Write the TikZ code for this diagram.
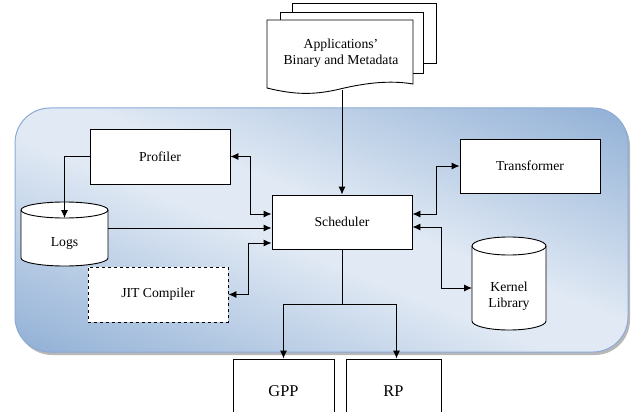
\documentclass[tikz,border=0pt]{standalone}
\usepackage{fontspec}
\setmainfont{Liberation Serif}
\usetikzlibrary{arrows.meta,calc,shadings}
\definecolor{bgdark}{RGB}{149,179,215}
\definecolor{bglight}{RGB}{224,233,244}
\definecolor{bgedge}{RGB}{140,170,214}
\pgfdeclareverticalshading{panelshade}{100bp}{color(0bp)=(bgdark); color(27.6bp)=(bgdark); color(47.1bp)=(bglight); color(52.9bp)=(bglight); color(72.4bp)=(bgdark); color(100bp)=(bgdark)}
\begin{document}
\begin{tikzpicture}[x=1pt,y=-1pt,
  txt/.style={font=\fontsize{13.7}{16}\selectfont, align=center, inner sep=0pt},
  box/.style={txt, draw=black, fill=white, line width=0.9pt, minimum width=140pt, minimum height=55pt},
  bigbox/.style={box, font=\fontsize{16.4}{19}\selectfont},
  ghost/.style={inner sep=0pt, outer sep=0pt},
  ln/.style={line width=0.9pt, draw=black},
  arr/.style={ln, -{Latex[length=8pt,width=7pt]}},
  darr/.style={ln, {Latex[length=8pt,width=7pt]}-{Latex[length=8pt,width=7pt]}}]
\clip (0,0) rectangle (635,412);
% background panel
\fill[black!28, rounded corners=35pt] (17,111) rectangle (630,355);
\begin{scope}
  \clip[rounded corners=35pt] (15,108) rectangle (628,352);
  \begin{scope}[transform canvas={rotate around={-21.7:(321.5,230)}}]
    \shade[shading=panelshade] (-150,-10) rectangle (800,470);
  \end{scope}
\end{scope}
\draw[rounded corners=35pt, draw=bgedge, line width=1pt] (15,108) rectangle (628,352);
% document stack
\filldraw[ln, fill=white] (292,3) rectangle (436,63);
\filldraw[ln, fill=white] (280,12) rectangle (423,73);
\filldraw[ln, fill=white] (267,20) -- (413,20) -- (413,84) .. controls (390,80) and (365,83) .. (340,89) .. controls (315,95) and (295,95) .. (267,88) -- cycle;
\node[txt] (doc) at (341,53) {Applications’\\Binary and Metadata};
\coordinate (docb) at (341,90);
% boxes
\node[box] (prof) at (160,156.5) {Profiler};
\node[box, minimum height=54pt] (sched) at (342,222) {Scheduler};
\node[box, dashed] (jit) at (158,294.5) {JIT Compiler};
\node[box, minimum height=54pt] (trans) at (530,166) {Transformer};
\node[bigbox, minimum width=101pt, minimum height=64pt] (gpp) at (283.5,391) {GPP};
\node[bigbox, minimum width=95pt, minimum height=64pt] (rp) at (393.5,391) {RP};
% Logs cylinder
\filldraw[ln, fill=white] (21,210) -- (21,258) arc[start angle=180, end angle=0, x radius=43.5, y radius=8] -- (108,210) arc[start angle=0, end angle=-180, x radius=43.5, y radius=8] -- cycle;
\draw[ln] (21,210) arc[start angle=180, end angle=0, x radius=43.5, y radius=8];
\node[ghost, minimum width=87pt, minimum height=64pt] (logs) at (64.5,234) {};
\node[txt] (logst) at (64.5,243) {Logs};
% Kernel Library cylinder
\filldraw[ln, fill=white] (472,246) -- (472,321) arc[start angle=180, end angle=0, x radius=37, y radius=9] -- (546,246) arc[start angle=0, end angle=-180, x radius=37, y radius=9] -- cycle;
\draw[ln] (472,246) arc[start angle=180, end angle=0, x radius=37, y radius=9];
\node[ghost, minimum width=74pt, minimum height=93pt] (kern) at (509,283.5) {};
\node[txt] (kernt) at (509,296) {Kernel\\Library};
% connectors
\coordinate (s1) at ([yshift=8pt]sched.west);
\coordinate (s2) at ([yshift=-6pt]sched.west);
\coordinate (s3) at ([yshift=-21pt]sched.west);
\coordinate (e1) at ([yshift=8pt]sched.east);
\coordinate (e2) at ([yshift=-5pt]sched.east);
\draw[arr] (docb -| sched.north) -- (sched.north);
\draw[darr] (prof.east) -- ++(20,0) |- (s1);
\draw[arr] (logs.east |- s2) -- (s2);
\draw[darr] (jit.east) -- ++(20,0) |- (s3);
\draw[arr] (prof.west) -| ([yshift=-16pt]logs.north);
\draw[darr] (trans.west) -- ++(-23,0) |- (e1);
\draw[darr] (e2) -- ++(29,0) |- ([yshift=-4.5pt]kern.west);
\draw[ln] (sched.south) -- ++(0,55) coordinate (j);
\draw[arr] (j) -| (gpp.north);
\draw[arr] (j) -| ([xshift=3pt]rp.north);
\end{tikzpicture}
\end{document}
